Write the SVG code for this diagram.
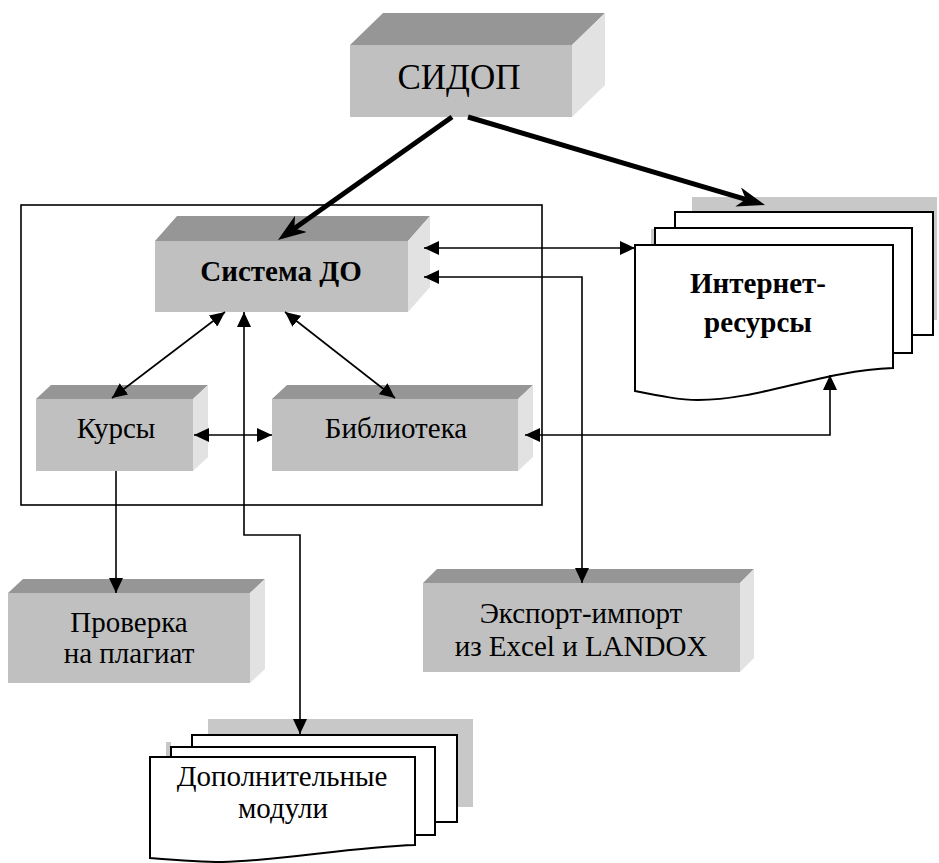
<svg xmlns="http://www.w3.org/2000/svg" width="939" height="863" viewBox="0 0 939 863">
<style>
.front{fill:#c0c0c0}
.top{fill:#969696}
.side{fill:#e2e2e2}
.page{fill:#ffffff;stroke:#000;stroke-width:2}
.shadow{fill:#c8c8c8}
text{font-family:'Liberation Serif','Times New Roman',serif;font-size:29px;fill:#000;text-anchor:middle}
.b{font-weight:bold}
.thin{fill:none;stroke:#000;stroke-width:1.6}
.thick{fill:none;stroke:#000;stroke-width:5}
.frame{fill:none;stroke:#000;stroke-width:1.6}
</style>
<defs>
<marker id="ah" viewBox="0 0 15 14" refX="15" refY="7" markerWidth="15" markerHeight="14" markerUnits="userSpaceOnUse" orient="auto-start-reverse">
<path d="M0,0 L15,7 L0,14 z" fill="#000"/>
</marker>
<marker id="big" viewBox="0 0 28 20" refX="8" refY="10" markerWidth="28" markerHeight="20" markerUnits="userSpaceOnUse" orient="auto">
<path d="M0,0 L28,10 L0,20 L8,10 z" fill="#000"/>
</marker>
</defs>

<rect class="frame" x="21" y="205" width="521" height="300"/>

<g id="sidop">
<polygon class="top" points="350,45 383,13 605,13 572,45"/>
<polygon class="side" points="572,45 605,13 605,85 572,117"/>
<rect class="front" x="350" y="45" width="222" height="72"/>
<text x="459" y="89" style="font-size:35px">СИДОП</text>
</g>

<g id="sistema">
<polygon class="top" points="155,241 177,216 430,216 408,241"/>
<polygon class="side" points="408,241 430,216 430,287 408,312"/>
<rect class="front" x="155" y="241" width="253" height="71"/>
<text class="b" x="281" y="281">Система ДО</text>
</g>

<g id="kursy">
<polygon class="top" points="36,399 51,385 208,385 193,399"/>
<polygon class="side" points="193,399 208,385 208,457 193,471"/>
<rect class="front" x="36" y="399" width="157" height="72"/>
<text x="116" y="438">Курсы</text>
</g>

<g id="biblioteka">
<polygon class="top" points="272,399 287,385 533,385 518,399"/>
<polygon class="side" points="518,399 533,385 533,457 518,471"/>
<rect class="front" x="272" y="399" width="246" height="72"/>
<text x="396" y="438">Библиотека</text>
</g>

<g id="proverka">
<polygon class="top" points="8,593 23,579 265,579 250,593"/>
<polygon class="side" points="250,593 265,579 265,669 250,683"/>
<rect class="front" x="8" y="593" width="242" height="90"/>
<text x="129" y="632">Проверка</text>
<text x="129" y="663">на плагиат</text>
</g>

<g id="eksport">
<polygon class="top" points="423,583 437,569 754,569 740,583"/>
<polygon class="side" points="740,583 754,569 754,658 740,672"/>
<rect class="front" x="423" y="583" width="317" height="89"/>
<text x="581" y="623">Экспорт-импорт</text>
<text x="581" y="656">из Excel и LANDOX</text>
</g>

<g id="internet">
<rect class="shadow" x="692" y="197" width="245" height="123"/>
<rect class="shadow" x="651" y="229" width="5" height="16"/>
<rect class="page" x="675" y="212" width="258" height="123"/>
<rect class="page" x="655" y="228" width="257" height="125"/>
<path class="page" d="M635,245 L893,245 L893,368 C820,371 760,400 698,400 C680,400 660,396 635,391 Z"/>
<text class="b" x="758" y="293">Интернет-</text>
<text class="b" x="758" y="332">ресурсы</text>
</g>

<g id="dopmoduli">
<rect class="shadow" x="208" y="719" width="265" height="88"/>
<rect class="shadow" x="166" y="742" width="5" height="15"/>
<rect class="page" x="192" y="735" width="265" height="87"/>
<rect class="page" x="171" y="747" width="264" height="88"/>
<path class="page" d="M150,757 L415,757 L415,845 C350,847 280,861 222,862 C200,862 175,860 150,858 Z"/>
<text x="282" y="786">Дополнительные</text>
<text x="283" y="818">модули</text>
</g>

<g id="connectors">
<path class="thick" d="M452,117 L294.3,228.5" marker-end="url(#big)"/>
<path class="thick" d="M468,117 L745.8,199.3" marker-end="url(#big)"/>
<path class="thin" d="M424,248 L635,248" marker-start="url(#ah)" marker-end="url(#ah)"/>
<path class="thin" d="M424,277 L582,277 L582,583" marker-start="url(#ah)" marker-end="url(#ah)"/>
<path class="thin" d="M225,312 L112,398" marker-start="url(#ah)" marker-end="url(#ah)"/>
<path class="thin" d="M285,312 L395,398" marker-start="url(#ah)" marker-end="url(#ah)"/>
<path class="thin" d="M244,312 L244,535 L300,535 L300,734" marker-start="url(#ah)" marker-end="url(#ah)"/>
<path class="thin" d="M194,435 L272,435" marker-start="url(#ah)" marker-end="url(#ah)"/>
<path class="thin" d="M525,435 L830,435 L830,375" marker-start="url(#ah)" marker-end="url(#ah)"/>
<path class="thin" d="M116,471 L116,593" marker-end="url(#ah)"/>
</g>
</svg>
